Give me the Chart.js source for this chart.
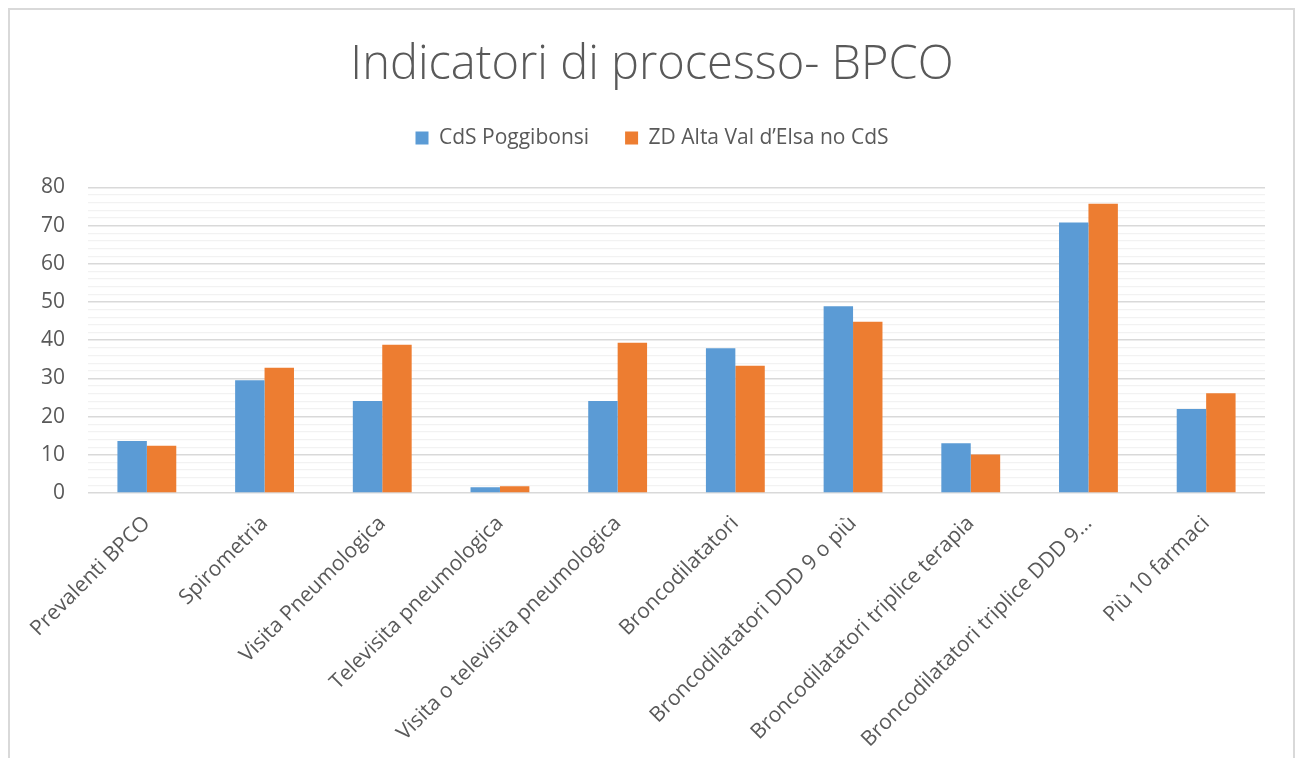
<!DOCTYPE html>
<html>
<head>
<meta charset="utf-8">
<script src="https://cdn.jsdelivr.net/npm/chart.js@4.4.0/dist/chart.umd.min.js"></script>
<style>
html,body{margin:0;padding:0;background:#fff;overflow:hidden;}
#wrap{position:absolute;left:0;top:0;width:1295px;height:758px;}
#frame{position:absolute;left:8px;top:8px;width:1283px;height:800px;border:2px solid #d9d9d9;pointer-events:none;}
</style>
</head>
<body>
<div id="wrap"><canvas id="c" width="1295" height="758"></canvas></div>
<div id="frame"></div>
<script>
const categories = [
  "Prevalenti BPCO",
  "Spirometria",
  "Visita Pneumologica",
  "Televisita pneumologica",
  "Visita o televisita pneumologica",
  "Broncodilatatori",
  "Broncodilatatori DDD 9 o più",
  "Broncodilatatori triplice terapia",
  "Broncodilatatori triplice DDD 9…",
  "Più 10 farmaci"
];
const seriesNames = ["CdS Poggibonsi", "ZD Alta Val d’Elsa no CdS"];
const cdsPoggibonsi = [13.6, 29.5, 24.1, 1.5, 24.1, 37.9, 48.9, 13.0, 70.8, 22.0];
const zdAltaValdElsa = [12.4, 32.8, 38.8, 1.75, 39.3, 33.3, 44.8, 10.1, 75.7, 26.1];
const yTickLabels = [0, 10, 20, 30, 40, 50, 60, 70, 80];

const FONT = "'Open Sans', sans-serif";
const GRAY = "#595959";

const legendSpacer = {
  id: 'legendSpacer',
  beforeInit(chart) {
    const origFit = chart.legend.fit;
    chart.legend.fit = function () {
      origFit.bind(chart.legend)();
      this.height += 29;
    };
  }
};

new Chart(document.getElementById('c'), {
  type: 'bar',
  data: {
    labels: categories,
    datasets: [
      { label: seriesNames[0], data: cdsPoggibonsi, backgroundColor: '#5B9BD5', categoryPercentage: 0.5, barPercentage: 1.0 },
      { label: seriesNames[1], data: zdAltaValdElsa, backgroundColor: '#ED7D31', categoryPercentage: 0.5, barPercentage: 1.0 }
    ]
  },
  plugins: [legendSpacer],
  options: {
    responsive: false,
    animation: false,
    devicePixelRatio: 1,
    layout: { padding: { left: 9, right: 0, top: 0, bottom: 0 } },
    plugins: {
      title: {
        display: true,
        text: 'Indicatori di processo- BPCO',
        color: GRAY,
        font: { family: FONT, size: 47, weight: '300' },
        padding: { top: 37, bottom: -2 }
      },
      legend: {
        display: true,
        position: 'top',
        labels: {
          color: GRAY,
          font: { family: FONT, size: 21 },
          boxWidth: 13,
          boxHeight: 13,
          padding: 36
        }
      },
      tooltip: { enabled: false }
    },
    scales: {
      x: {
        grid: { display: false },
        border: { display: false },
        ticks: {
          color: GRAY,
          font: { family: FONT, size: 21 },
          minRotation: 45,
          maxRotation: 45,
          autoSkip: false,
          padding: 10
        },
        afterFit(scale) { scale.height = 265; }
      },
      y: {
        min: 0,
        max: 80,
        border: { display: false },
        grid: {
          drawTicks: false,
          lineWidth: (ctx) => (ctx.tick && ctx.tick.value % 10 === 0) ? 1.5 : 1.2,
          color: (ctx) => (ctx.tick && ctx.tick.value % 10 === 0) ? '#d9d9d9' : '#f2f2f2'
        },
        ticks: {
          stepSize: 2,
          autoSkip: false,
          color: GRAY,
          font: { family: FONT, size: 21 },
          padding: 23,
          callback: (v) => yTickLabels.includes(v) ? String(v) : ''
        },
        afterFit(scale) { scale.width = 79; }
      },
      yRight: {
        position: 'right',
        display: true,
        grid: { display: false },
        border: { display: false },
        ticks: { display: false },
        afterFit(scale) { scale.width = 30; }
      }
    }
  }
});
</script>
</body>
</html>
